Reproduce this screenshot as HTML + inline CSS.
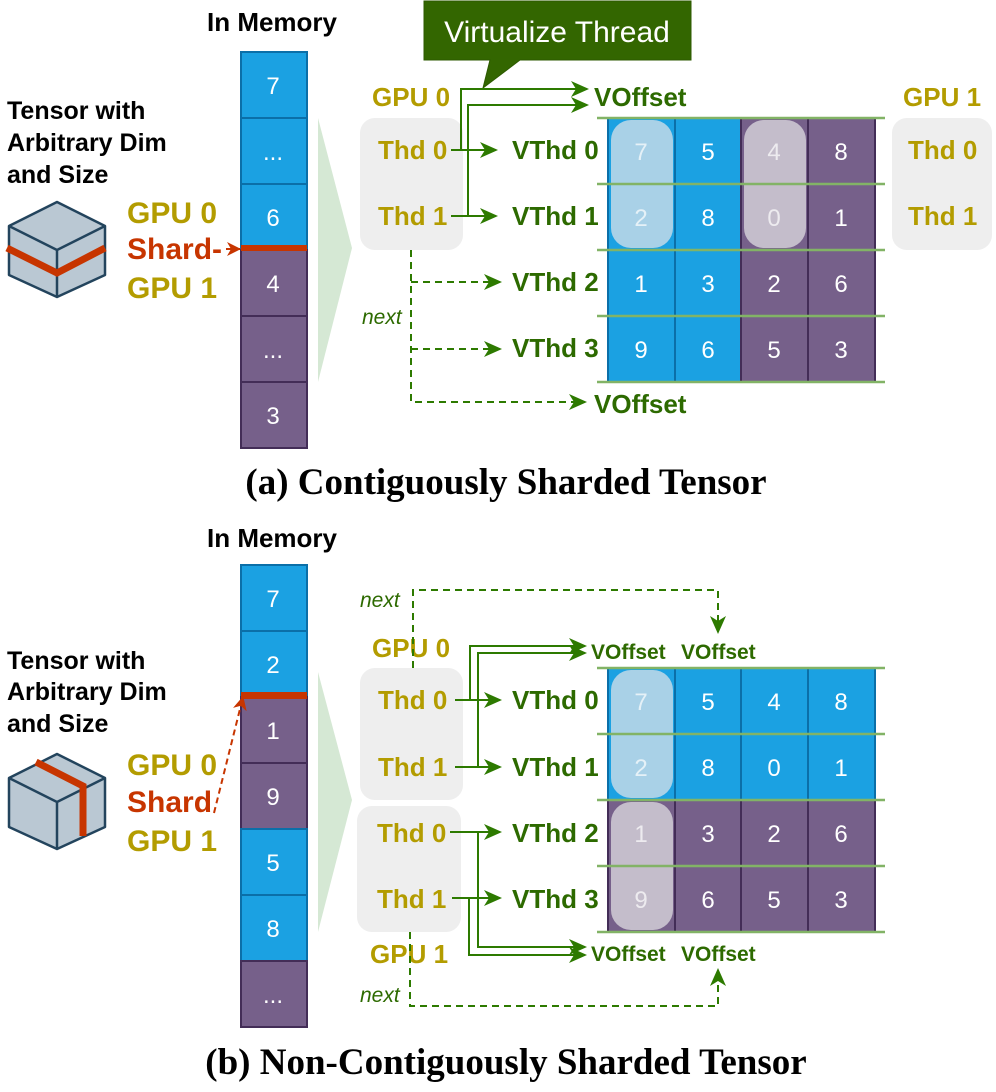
<!DOCTYPE html>
<html><head><meta charset="utf-8"><style>
body{margin:0;background:#fff}
svg{display:block}
.b{font-family:"Liberation Sans",sans-serif;font-weight:bold}
.gold{fill:#b39c00}
.vg{fill:#2d6a00}
.num{font-family:"Liberation Sans",sans-serif;font-size:24px;fill:#fff;text-anchor:middle}
</style></head><body>
<svg width="996" height="1092" viewBox="0 0 996 1092" xmlns="http://www.w3.org/2000/svg">
<defs>
<marker id="ag2" markerWidth="18" markerHeight="18" refX="16" refY="9" orient="auto" markerUnits="userSpaceOnUse" viewBox="0 0 18 18"><path d="M0,1 L18,9 L0,17 L5,9 z" fill="#2d7a00"/></marker>
<marker id="ar" markerWidth="14" markerHeight="14" refX="13" refY="7" orient="auto" markerUnits="userSpaceOnUse" viewBox="0 0 14 14"><path d="M0,0 L14,7 L0,14 L4,7 z" fill="#c73500"/></marker>
</defs>

<!-- ========== (a) ========== -->
<text x="272" y="31" class="b" font-size="26" text-anchor="middle">In Memory</text>
<g stroke-width="2">
<rect x="241" y="52" width="66" height="66" fill="#1ba1e2" stroke="#0b6fa8"/>
<rect x="241" y="118" width="66" height="66" fill="#1ba1e2" stroke="#0b6fa8"/>
<rect x="241" y="184" width="66" height="66" fill="#1ba1e2" stroke="#0b6fa8"/>
<rect x="241" y="250" width="66" height="66" fill="#76608a" stroke="#432d57"/>
<rect x="241" y="316" width="66" height="66" fill="#76608a" stroke="#432d57"/>
<rect x="241" y="382" width="66" height="66" fill="#76608a" stroke="#432d57"/>
</g>
<rect x="241" y="245" width="66" height="6" fill="#c73500"/>
<text x="273" y="94" class="num">7</text><text x="273" y="160" class="num">...</text><text x="273" y="226" class="num">6</text>
<text x="273" y="292" class="num">4</text><text x="273" y="358" class="num">...</text><text x="273" y="424" class="num">3</text>

<text class="b" font-size="25" x="7" y="119">Tensor with</text>
<text class="b" font-size="25" x="7" y="151">Arbitrary Dim</text>
<text class="b" font-size="25" x="7" y="183">and Size</text>
<g stroke="#23445d" stroke-width="2.5" fill="#bac8d3" stroke-linejoin="round">
<path d="M57,202 L105,226 L105,275 L57,297 L9,275 L9,226 z"/>
<path d="M9,226 L57,250 L105,226 M57,250 L57,297" fill="none"/>
</g>
<path d="M7,248 L57,273 L105,248" stroke="#c73500" stroke-width="7" fill="none"/>
<text class="b gold" font-size="30" x="127" y="223">GPU 0</text>
<text class="b" font-size="30" x="127" y="259" fill="#c73500">Shard-</text>
<path d="M226,249 L240,249" stroke="#c73500" stroke-width="2" marker-end="url(#ar)"/>
<text class="b gold" font-size="30" x="127" y="298">GPU 1</text>

<path d="M318,118 L352,248 L318,382 z" fill="#d5e8d4"/>

<rect x="360" y="118" width="103" height="132" rx="15" fill="#eeeeee"/>
<text class="b gold" font-size="26" x="372" y="106">GPU 0</text>
<text class="b gold" font-size="26" x="378" y="159">Thd 0</text>
<text class="b gold" font-size="26" x="378" y="225">Thd 1</text>

<!-- callout -->
<path d="M424,1 L691,1 L691,60 L520,60 L483,88 L490,60 L424,60 z" fill="#336600" stroke="#2d5a00"/>
<text x="557" y="42" text-anchor="middle" font-family="Liberation Sans,sans-serif" font-size="30" fill="#fff">Virtualize Thread</text>

<g stroke="#2d7a00" stroke-width="2" fill="none">
<path d="M451,150 L496,150" marker-end="url(#ag2)"/>
<path d="M451,216 L496,216" marker-end="url(#ag2)"/>
<path d="M451,150 L461,150 L461,89 L587,89" marker-end="url(#ag2)"/>
<path d="M468,216 L468,105 L587,105" marker-end="url(#ag2)"/>
</g>
<text class="b vg" font-size="26" x="594" y="106">VOffset</text>
<text class="b vg" font-size="26" x="512" y="159">VThd 0</text>
<text class="b vg" font-size="26" x="512" y="225">VThd 1</text>
<text class="b vg" font-size="26" x="512" y="291">VThd 2</text>
<text class="b vg" font-size="26" x="512" y="357">VThd 3</text>

<g stroke="#2d7a00" stroke-width="2" fill="none" stroke-dasharray="7,5">
<path d="M411,250 L411,402 L585,402" marker-end="url(#ag2)"/>
<path d="M411,282 L500,282" marker-end="url(#ag2)"/>
<path d="M411,349 L500,349" marker-end="url(#ag2)"/>
</g>
<text x="362" y="324" font-family="Liberation Sans,sans-serif" font-style="italic" font-size="21" class="vg">next</text>
<text class="b vg" font-size="26" x="594" y="413">VOffset</text>

<!-- grid a -->
<g stroke-width="2">
<rect x="608" y="118" width="67" height="264" fill="#1ba1e2" stroke="#0b6fa8"/>
<rect x="675" y="118" width="66" height="264" fill="#1ba1e2" stroke="#0b6fa8"/>
<rect x="741" y="118" width="67" height="264" fill="#76608a" stroke="#432d57"/>
<rect x="808" y="118" width="67" height="264" fill="#76608a" stroke="#432d57"/>
</g>
<rect x="611" y="120" width="62" height="128" rx="20" fill="#a9d1e7"/>
<rect x="744" y="120" width="62" height="128" rx="20" fill="#c4bdcb"/>
<g stroke="#82b366" stroke-width="2.5">
<line x1="597" y1="118" x2="885" y2="118"/><line x1="597" y1="184" x2="885" y2="184"/>
<line x1="597" y1="250" x2="885" y2="250"/><line x1="597" y1="316" x2="885" y2="316"/>
<line x1="597" y1="382" x2="885" y2="382"/>
</g>
<text x="641" y="160" class="num" opacity=".7">7</text><text x="708" y="160" class="num">5</text><text x="774" y="160" class="num" opacity=".7">4</text><text x="841" y="160" class="num">8</text>
<text x="641" y="226" class="num" opacity=".7">2</text><text x="708" y="226" class="num">8</text><text x="774" y="226" class="num" opacity=".7">0</text><text x="841" y="226" class="num">1</text>
<text x="641" y="292" class="num">1</text><text x="708" y="292" class="num">3</text><text x="774" y="292" class="num">2</text><text x="841" y="292" class="num">6</text>
<text x="641" y="358" class="num">9</text><text x="708" y="358" class="num">6</text><text x="774" y="358" class="num">5</text><text x="841" y="358" class="num">3</text>
<rect x="892" y="118" width="100" height="132" rx="15" fill="#eeeeee"/>
<text class="b gold" font-size="26" x="903" y="106">GPU 1</text>
<text class="b gold" font-size="26" x="908" y="159">Thd 0</text>
<text class="b gold" font-size="26" x="908" y="225">Thd 1</text>

<text x="506" y="494" text-anchor="middle" font-family="Liberation Serif,serif" font-weight="bold" font-size="37">(a) Contiguously Sharded Tensor</text>

<!-- ========== (b) ========== -->
<text x="272" y="547" class="b" font-size="26" text-anchor="middle">In Memory</text>
<g stroke-width="2">
<rect x="241" y="565" width="66" height="66" fill="#1ba1e2" stroke="#0b6fa8"/>
<rect x="241" y="631" width="66" height="66" fill="#1ba1e2" stroke="#0b6fa8"/>
<rect x="241" y="697" width="66" height="66" fill="#76608a" stroke="#432d57"/>
<rect x="241" y="763" width="66" height="66" fill="#76608a" stroke="#432d57"/>
<rect x="241" y="829" width="66" height="66" fill="#1ba1e2" stroke="#0b6fa8"/>
<rect x="241" y="895" width="66" height="66" fill="#1ba1e2" stroke="#0b6fa8"/>
<rect x="241" y="961" width="66" height="66" fill="#76608a" stroke="#432d57"/>
</g>
<rect x="241" y="692" width="66" height="7" fill="#c73500"/>
<text x="273" y="607" class="num">7</text><text x="273" y="673" class="num">2</text><text x="273" y="739" class="num">1</text>
<text x="273" y="805" class="num">9</text><text x="273" y="871" class="num">5</text><text x="273" y="937" class="num">8</text><text x="273" y="1003" class="num">...</text>

<text class="b" font-size="25" x="7" y="669">Tensor with</text>
<text class="b" font-size="25" x="7" y="700">Arbitrary Dim</text>
<text class="b" font-size="25" x="7" y="732">and Size</text>
<g stroke="#23445d" stroke-width="2.5" fill="#bac8d3" stroke-linejoin="round">
<path d="M57,754 L105,778 L105,827 L57,849 L9,827 L9,778 z"/>
<path d="M9,778 L57,802 L105,778 M57,802 L57,849" fill="none"/>
</g>
<path d="M36,762 L83,786 L83,836" stroke="#c73500" stroke-width="7" fill="none"/>
<text class="b gold" font-size="30" x="127" y="775">GPU 0</text>
<text class="b" font-size="30" x="127" y="812" fill="#c73500">Shard</text>
<text class="b gold" font-size="30" x="127" y="851">GPU 1</text>
<path d="M214,813 L243,697" stroke="#c73500" stroke-width="2" stroke-dasharray="6,4" fill="none" marker-end="url(#ar)"/>

<path d="M318,672 L352,800 L318,932 z" fill="#d5e8d4"/>

<rect x="360" y="668" width="103" height="132" rx="15" fill="#eeeeee"/>
<rect x="357" y="806" width="104" height="126" rx="15" fill="#eeeeee"/>
<text class="b gold" font-size="26" x="372" y="657">GPU 0</text>
<text class="b gold" font-size="26" x="378" y="709">Thd 0</text>
<text class="b gold" font-size="26" x="378" y="776">Thd 1</text>
<text class="b gold" font-size="26" x="377" y="842">Thd 0</text>
<text class="b gold" font-size="26" x="377" y="908">Thd 1</text>
<text class="b gold" font-size="26" x="370" y="963">GPU 1</text>

<g stroke="#2d7a00" stroke-width="2" fill="none" stroke-dasharray="7,5">
<path d="M413,668 L413,590 L718,590 L718,632" marker-end="url(#ag2)"/>
<path d="M410,932 L410,1006 L718,1006 L718,970" marker-end="url(#ag2)"/>
</g>
<text x="360" y="607" font-family="Liberation Sans,sans-serif" font-style="italic" font-size="21" class="vg">next</text>
<text x="360" y="1002" font-family="Liberation Sans,sans-serif" font-style="italic" font-size="21" class="vg">next</text>

<g stroke="#2d7a00" stroke-width="2" fill="none">
<path d="M455,700 L500,700" marker-end="url(#ag2)"/>
<path d="M455,767 L500,767" marker-end="url(#ag2)"/>
<path d="M470,700 L470,646 L585,646" marker-end="url(#ag2)"/>
<path d="M478,767 L478,653 L585,653" marker-end="url(#ag2)"/>
<path d="M450,832 L500,832" marker-end="url(#ag2)"/>
<path d="M452,898 L500,898" marker-end="url(#ag2)"/>
<path d="M478,832 L478,947 L585,947" marker-end="url(#ag2)"/>
<path d="M469,898 L469,955 L585,955" marker-end="url(#ag2)"/>
</g>
<text class="b vg" font-size="21" x="591" y="659">VOffset</text>
<text class="b vg" font-size="21" x="681" y="659">VOffset</text>
<text class="b vg" font-size="21" x="591" y="961">VOffset</text>
<text class="b vg" font-size="21" x="681" y="961">VOffset</text>
<text class="b vg" font-size="26" x="512" y="709">VThd 0</text>
<text class="b vg" font-size="26" x="512" y="776">VThd 1</text>
<text class="b vg" font-size="26" x="512" y="842">VThd 2</text>
<text class="b vg" font-size="26" x="512" y="908">VThd 3</text>

<!-- grid b -->
<g stroke-width="2">
<rect x="608" y="668" width="267" height="132" fill="#1ba1e2" stroke="#0b6fa8"/>
<rect x="608" y="800" width="267" height="132" fill="#76608a" stroke="#432d57"/>
<line x1="675" y1="668" x2="675" y2="800" stroke="#0b6fa8"/><line x1="741" y1="668" x2="741" y2="800" stroke="#0b6fa8"/><line x1="808" y1="668" x2="808" y2="800" stroke="#0b6fa8"/>
<line x1="675" y1="800" x2="675" y2="932" stroke="#432d57"/><line x1="741" y1="800" x2="741" y2="932" stroke="#432d57"/><line x1="808" y1="800" x2="808" y2="932" stroke="#432d57"/>
</g>
<rect x="611" y="670" width="62" height="128" rx="20" fill="#a9d1e7"/>
<rect x="611" y="802" width="62" height="128" rx="20" fill="#c4bdcb"/>
<g stroke="#82b366" stroke-width="2.5">
<line x1="597" y1="668" x2="885" y2="668"/><line x1="597" y1="734" x2="885" y2="734"/>
<line x1="597" y1="800" x2="885" y2="800"/><line x1="597" y1="866" x2="885" y2="866"/>
<line x1="597" y1="932" x2="885" y2="932"/>
</g>
<text x="641" y="710" class="num" opacity=".7">7</text><text x="708" y="710" class="num">5</text><text x="774" y="710" class="num">4</text><text x="841" y="710" class="num">8</text>
<text x="641" y="776" class="num" opacity=".7">2</text><text x="708" y="776" class="num">8</text><text x="774" y="776" class="num">0</text><text x="841" y="776" class="num">1</text>
<text x="641" y="842" class="num" opacity=".7">1</text><text x="708" y="842" class="num">3</text><text x="774" y="842" class="num">2</text><text x="841" y="842" class="num">6</text>
<text x="641" y="908" class="num" opacity=".7">9</text><text x="708" y="908" class="num">6</text><text x="774" y="908" class="num">5</text><text x="841" y="908" class="num">3</text>

<text x="506" y="1074" text-anchor="middle" font-family="Liberation Serif,serif" font-weight="bold" font-size="37">(b) Non-Contiguously Sharded Tensor</text>
</svg>
</body></html>
